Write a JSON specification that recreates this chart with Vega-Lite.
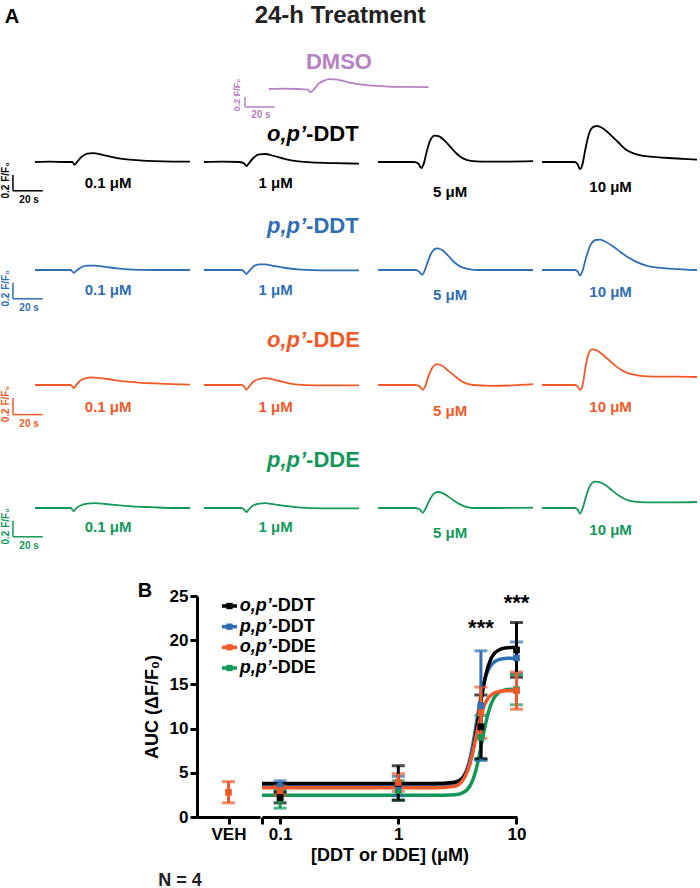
{
"$schema": "https://vega.github.io/schema/vega-lite/v6.json",
"padding": 0,
"autosize": {"type": "pad"},
"background": "white",
"spacing": 0,
"config": {
  "view": {"stroke": null},
  "font": "Liberation Sans",
  "axis": {"labelFont": "Liberation Sans", "titleFont": "Liberation Sans", "labelFontSize": 17, "labelFontWeight": "bold", "labelColor": "#000", "titleFontSize": 18, "titleFontWeight": "bold", "titleColor": "#000", "domainColor": "#000", "domainWidth": 3, "tickColor": "#000", "tickWidth": 3, "tickSize": 7, "grid": false, "labelPadding": 2}
},
"datasets": {
"tr": [
{"c":"DMSO","k":"","t":0,"v":0},{"c":"DMSO","k":"","t":10,"v":0.005},{"c":"DMSO","k":"","t":20,"v":0},{"c":"DMSO","k":"","t":26,"v":-0.01},{"c":"DMSO","k":"","t":28,"v":-0.05},{"c":"DMSO","k":"","t":30,"v":-0.01},{"c":"DMSO","k":"","t":33,"v":0.08},{"c":"DMSO","k":"","t":37,"v":0.14},{"c":"DMSO","k":"","t":41,"v":0.165},{"c":"DMSO","k":"","t":46,"v":0.155},{"c":"DMSO","k":"","t":52,"v":0.12},{"c":"DMSO","k":"","t":60,"v":0.08},{"c":"DMSO","k":"","t":70,"v":0.055},{"c":"DMSO","k":"","t":80,"v":0.04},{"c":"DMSO","k":"","t":92,"v":0.035},{"c":"DMSO","k":"","t":107,"v":0.03},

{"c":"o,p’-DDT","k":"0.1 μM","t":0,"v":0},{"c":"o,p’-DDT","k":"0.1 μM","t":10,"v":0.005},{"c":"o,p’-DDT","k":"0.1 μM","t":20,"v":0},{"c":"o,p’-DDT","k":"0.1 μM","t":25,"v":0},{"c":"o,p’-DDT","k":"0.1 μM","t":26.5,"v":-0.035},{"c":"o,p’-DDT","k":"0.1 μM","t":28,"v":-0.005},{"c":"o,p’-DDT","k":"0.1 μM","t":31,"v":0.06},{"c":"o,p’-DDT","k":"0.1 μM","t":35,"v":0.105},{"c":"o,p’-DDT","k":"0.1 μM","t":39,"v":0.11},{"c":"o,p’-DDT","k":"0.1 μM","t":45,"v":0.09},{"c":"o,p’-DDT","k":"0.1 μM","t":52,"v":0.06},{"c":"o,p’-DDT","k":"0.1 μM","t":60,"v":0.035},{"c":"o,p’-DDT","k":"0.1 μM","t":70,"v":0.02},{"c":"o,p’-DDT","k":"0.1 μM","t":80,"v":0.01},{"c":"o,p’-DDT","k":"0.1 μM","t":92,"v":0.005},{"c":"o,p’-DDT","k":"0.1 μM","t":104,"v":0.005},
{"c":"o,p’-DDT","k":"1 μM","t":0,"v":0},{"c":"o,p’-DDT","k":"1 μM","t":12,"v":0.005},{"c":"o,p’-DDT","k":"1 μM","t":24,"v":0},{"c":"o,p’-DDT","k":"1 μM","t":27,"v":-0.02},{"c":"o,p’-DDT","k":"1 μM","t":28.5,"v":-0.05},{"c":"o,p’-DDT","k":"1 μM","t":30,"v":-0.02},{"c":"o,p’-DDT","k":"1 μM","t":33,"v":0.05},{"c":"o,p’-DDT","k":"1 μM","t":37,"v":0.095},{"c":"o,p’-DDT","k":"1 μM","t":41,"v":0.1},{"c":"o,p’-DDT","k":"1 μM","t":47,"v":0.075},{"c":"o,p’-DDT","k":"1 μM","t":54,"v":0.04},{"c":"o,p’-DDT","k":"1 μM","t":62,"v":0.01},{"c":"o,p’-DDT","k":"1 μM","t":72,"v":-0.005},{"c":"o,p’-DDT","k":"1 μM","t":88,"v":-0.015},{"c":"o,p’-DDT","k":"1 μM","t":104,"v":-0.02},
{"c":"o,p’-DDT","k":"5 μM","t":0,"v":0},{"c":"o,p’-DDT","k":"5 μM","t":12,"v":0},{"c":"o,p’-DDT","k":"5 μM","t":24,"v":0},{"c":"o,p’-DDT","k":"5 μM","t":27,"v":-0.02},{"c":"o,p’-DDT","k":"5 μM","t":29,"v":-0.075},{"c":"o,p’-DDT","k":"5 μM","t":30.5,"v":-0.03},{"c":"o,p’-DDT","k":"5 μM","t":32.5,"v":0.12},{"c":"o,p’-DDT","k":"5 μM","t":35,"v":0.27},{"c":"o,p’-DDT","k":"5 μM","t":38,"v":0.33},{"c":"o,p’-DDT","k":"5 μM","t":41,"v":0.32},{"c":"o,p’-DDT","k":"5 μM","t":45,"v":0.26},{"c":"o,p’-DDT","k":"5 μM","t":49,"v":0.18},{"c":"o,p’-DDT","k":"5 μM","t":53,"v":0.1},{"c":"o,p’-DDT","k":"5 μM","t":57,"v":0.045},{"c":"o,p’-DDT","k":"5 μM","t":62,"v":0.015},{"c":"o,p’-DDT","k":"5 μM","t":70,"v":0.005},{"c":"o,p’-DDT","k":"5 μM","t":85,"v":0.005},{"c":"o,p’-DDT","k":"5 μM","t":104,"v":0.01},
{"c":"o,p’-DDT","k":"10 μM","t":0,"v":0},{"c":"o,p’-DDT","k":"10 μM","t":12,"v":0},{"c":"o,p’-DDT","k":"10 μM","t":22,"v":0},{"c":"o,p’-DDT","k":"10 μM","t":24,"v":-0.03},{"c":"o,p’-DDT","k":"10 μM","t":25.5,"v":-0.09},{"c":"o,p’-DDT","k":"10 μM","t":27,"v":-0.04},{"c":"o,p’-DDT","k":"10 μM","t":29,"v":0.15},{"c":"o,p’-DDT","k":"10 μM","t":31.5,"v":0.35},{"c":"o,p’-DDT","k":"10 μM","t":34.5,"v":0.44},{"c":"o,p’-DDT","k":"10 μM","t":37,"v":0.45},{"c":"o,p’-DDT","k":"10 μM","t":41,"v":0.42},{"c":"o,p’-DDT","k":"10 μM","t":46,"v":0.34},{"c":"o,p’-DDT","k":"10 μM","t":51,"v":0.25},{"c":"o,p’-DDT","k":"10 μM","t":56,"v":0.16},{"c":"o,p’-DDT","k":"10 μM","t":61,"v":0.11},{"c":"o,p’-DDT","k":"10 μM","t":67,"v":0.08},{"c":"o,p’-DDT","k":"10 μM","t":75,"v":0.065},{"c":"o,p’-DDT","k":"10 μM","t":85,"v":0.05},{"c":"o,p’-DDT","k":"10 μM","t":95,"v":0.04},{"c":"o,p’-DDT","k":"10 μM","t":104,"v":0.03},

{"c":"p,p’-DDT","k":"0.1 μM","t":0,"v":0},{"c":"p,p’-DDT","k":"0.1 μM","t":12,"v":0},{"c":"p,p’-DDT","k":"0.1 μM","t":24,"v":0},{"c":"p,p’-DDT","k":"0.1 μM","t":26,"v":-0.035},{"c":"p,p’-DDT","k":"0.1 μM","t":28,"v":-0.005},{"c":"p,p’-DDT","k":"0.1 μM","t":31,"v":0.035},{"c":"p,p’-DDT","k":"0.1 μM","t":35,"v":0.055},{"c":"p,p’-DDT","k":"0.1 μM","t":40,"v":0.055},{"c":"p,p’-DDT","k":"0.1 μM","t":47,"v":0.04},{"c":"p,p’-DDT","k":"0.1 μM","t":55,"v":0.02},{"c":"p,p’-DDT","k":"0.1 μM","t":65,"v":0.005},{"c":"p,p’-DDT","k":"0.1 μM","t":80,"v":0},{"c":"p,p’-DDT","k":"0.1 μM","t":104,"v":0},
{"c":"p,p’-DDT","k":"1 μM","t":0,"v":0},{"c":"p,p’-DDT","k":"1 μM","t":12,"v":0},{"c":"p,p’-DDT","k":"1 μM","t":25,"v":0},{"c":"p,p’-DDT","k":"1 μM","t":27,"v":-0.02},{"c":"p,p’-DDT","k":"1 μM","t":28.5,"v":-0.05},{"c":"p,p’-DDT","k":"1 μM","t":30,"v":-0.02},{"c":"p,p’-DDT","k":"1 μM","t":33,"v":0.04},{"c":"p,p’-DDT","k":"1 μM","t":37,"v":0.07},{"c":"p,p’-DDT","k":"1 μM","t":41,"v":0.07},{"c":"p,p’-DDT","k":"1 μM","t":47,"v":0.05},{"c":"p,p’-DDT","k":"1 μM","t":55,"v":0.025},{"c":"p,p’-DDT","k":"1 μM","t":65,"v":0.005},{"c":"p,p’-DDT","k":"1 μM","t":80,"v":-0.005},{"c":"p,p’-DDT","k":"1 μM","t":104,"v":-0.005},
{"c":"p,p’-DDT","k":"5 μM","t":0,"v":0},{"c":"p,p’-DDT","k":"5 μM","t":12,"v":0},{"c":"p,p’-DDT","k":"5 μM","t":25,"v":0},{"c":"p,p’-DDT","k":"5 μM","t":27.5,"v":-0.02},{"c":"p,p’-DDT","k":"5 μM","t":29.5,"v":-0.06},{"c":"p,p’-DDT","k":"5 μM","t":31,"v":-0.02},{"c":"p,p’-DDT","k":"5 μM","t":33.5,"v":0.11},{"c":"p,p’-DDT","k":"5 μM","t":36,"v":0.22},{"c":"p,p’-DDT","k":"5 μM","t":39.5,"v":0.27},{"c":"p,p’-DDT","k":"5 μM","t":43,"v":0.25},{"c":"p,p’-DDT","k":"5 μM","t":47,"v":0.18},{"c":"p,p’-DDT","k":"5 μM","t":51,"v":0.1},{"c":"p,p’-DDT","k":"5 μM","t":55,"v":0.045},{"c":"p,p’-DDT","k":"5 μM","t":60,"v":0.015},{"c":"p,p’-DDT","k":"5 μM","t":68,"v":0},{"c":"p,p’-DDT","k":"5 μM","t":85,"v":0},{"c":"p,p’-DDT","k":"5 μM","t":104,"v":0},
{"c":"p,p’-DDT","k":"10 μM","t":0,"v":0},{"c":"p,p’-DDT","k":"10 μM","t":12,"v":0},{"c":"p,p’-DDT","k":"10 μM","t":22,"v":0},{"c":"p,p’-DDT","k":"10 μM","t":24,"v":-0.02},{"c":"p,p’-DDT","k":"10 μM","t":25.5,"v":-0.07},{"c":"p,p’-DDT","k":"10 μM","t":27,"v":-0.02},{"c":"p,p’-DDT","k":"10 μM","t":29.5,"v":0.15},{"c":"p,p’-DDT","k":"10 μM","t":32.5,"v":0.31},{"c":"p,p’-DDT","k":"10 μM","t":36,"v":0.375},{"c":"p,p’-DDT","k":"10 μM","t":39,"v":0.38},{"c":"p,p’-DDT","k":"10 μM","t":43,"v":0.35},{"c":"p,p’-DDT","k":"10 μM","t":48,"v":0.29},{"c":"p,p’-DDT","k":"10 μM","t":53,"v":0.22},{"c":"p,p’-DDT","k":"10 μM","t":58,"v":0.155},{"c":"p,p’-DDT","k":"10 μM","t":63,"v":0.105},{"c":"p,p’-DDT","k":"10 μM","t":70,"v":0.055},{"c":"p,p’-DDT","k":"10 μM","t":78,"v":0.03},{"c":"p,p’-DDT","k":"10 μM","t":88,"v":0.015},{"c":"p,p’-DDT","k":"10 μM","t":104,"v":0},

{"c":"o,p’-DDE","k":"0.1 μM","t":0,"v":0},{"c":"o,p’-DDE","k":"0.1 μM","t":12,"v":0},{"c":"o,p’-DDE","k":"0.1 μM","t":24,"v":0},{"c":"o,p’-DDE","k":"0.1 μM","t":26,"v":-0.04},{"c":"o,p’-DDE","k":"0.1 μM","t":27.5,"v":-0.005},{"c":"o,p’-DDE","k":"0.1 μM","t":30,"v":0.05},{"c":"o,p’-DDE","k":"0.1 μM","t":34,"v":0.085},{"c":"o,p’-DDE","k":"0.1 μM","t":38,"v":0.095},{"c":"o,p’-DDE","k":"0.1 μM","t":44,"v":0.085},{"c":"o,p’-DDE","k":"0.1 μM","t":52,"v":0.065},{"c":"o,p’-DDE","k":"0.1 μM","t":60,"v":0.045},{"c":"o,p’-DDE","k":"0.1 μM","t":70,"v":0.03},{"c":"o,p’-DDE","k":"0.1 μM","t":80,"v":0.02},{"c":"o,p’-DDE","k":"0.1 μM","t":92,"v":0.01},{"c":"o,p’-DDE","k":"0.1 μM","t":104,"v":0.005},
{"c":"o,p’-DDE","k":"1 μM","t":0,"v":0},{"c":"o,p’-DDE","k":"1 μM","t":12,"v":0},{"c":"o,p’-DDE","k":"1 μM","t":25,"v":0},{"c":"o,p’-DDE","k":"1 μM","t":27,"v":-0.02},{"c":"o,p’-DDE","k":"1 μM","t":28.5,"v":-0.06},{"c":"o,p’-DDE","k":"1 μM","t":30,"v":-0.025},{"c":"o,p’-DDE","k":"1 μM","t":33,"v":0.04},{"c":"o,p’-DDE","k":"1 μM","t":37,"v":0.075},{"c":"o,p’-DDE","k":"1 μM","t":41,"v":0.085},{"c":"o,p’-DDE","k":"1 μM","t":47,"v":0.065},{"c":"o,p’-DDE","k":"1 μM","t":55,"v":0.03},{"c":"o,p’-DDE","k":"1 μM","t":63,"v":0.005},{"c":"o,p’-DDE","k":"1 μM","t":75,"v":-0.005},{"c":"o,p’-DDE","k":"1 μM","t":90,"v":-0.005},{"c":"o,p’-DDE","k":"1 μM","t":104,"v":-0.005},
{"c":"o,p’-DDE","k":"5 μM","t":0,"v":0},{"c":"o,p’-DDE","k":"5 μM","t":12,"v":0},{"c":"o,p’-DDE","k":"5 μM","t":25,"v":0},{"c":"o,p’-DDE","k":"5 μM","t":28,"v":-0.02},{"c":"o,p’-DDE","k":"5 μM","t":30,"v":-0.06},{"c":"o,p’-DDE","k":"5 μM","t":31.5,"v":-0.02},{"c":"o,p’-DDE","k":"5 μM","t":34,"v":0.12},{"c":"o,p’-DDE","k":"5 μM","t":36.5,"v":0.22},{"c":"o,p’-DDE","k":"5 μM","t":39.5,"v":0.26},{"c":"o,p’-DDE","k":"5 μM","t":43,"v":0.24},{"c":"o,p’-DDE","k":"5 μM","t":47,"v":0.18},{"c":"o,p’-DDE","k":"5 μM","t":51,"v":0.12},{"c":"o,p’-DDE","k":"5 μM","t":55,"v":0.06},{"c":"o,p’-DDE","k":"5 μM","t":59,"v":0.02},{"c":"o,p’-DDE","k":"5 μM","t":64,"v":0},{"c":"o,p’-DDE","k":"5 μM","t":75,"v":-0.01},{"c":"o,p’-DDE","k":"5 μM","t":90,"v":-0.005},{"c":"o,p’-DDE","k":"5 μM","t":104,"v":0.01},
{"c":"o,p’-DDE","k":"10 μM","t":0,"v":0},{"c":"o,p’-DDE","k":"10 μM","t":12,"v":0},{"c":"o,p’-DDE","k":"10 μM","t":22,"v":0},{"c":"o,p’-DDE","k":"10 μM","t":24,"v":-0.02},{"c":"o,p’-DDE","k":"10 μM","t":25.5,"v":-0.06},{"c":"o,p’-DDE","k":"10 μM","t":27,"v":-0.02},{"c":"o,p’-DDE","k":"10 μM","t":29,"v":0.2},{"c":"o,p’-DDE","k":"10 μM","t":31,"v":0.38},{"c":"o,p’-DDE","k":"10 μM","t":33.5,"v":0.445},{"c":"o,p’-DDE","k":"10 μM","t":36,"v":0.44},{"c":"o,p’-DDE","k":"10 μM","t":40,"v":0.39},{"c":"o,p’-DDE","k":"10 μM","t":45,"v":0.31},{"c":"o,p’-DDE","k":"10 μM","t":50,"v":0.23},{"c":"o,p’-DDE","k":"10 μM","t":55,"v":0.17},{"c":"o,p’-DDE","k":"10 μM","t":60,"v":0.135},{"c":"o,p’-DDE","k":"10 μM","t":66,"v":0.115},{"c":"o,p’-DDE","k":"10 μM","t":75,"v":0.105},{"c":"o,p’-DDE","k":"10 μM","t":90,"v":0.105},{"c":"o,p’-DDE","k":"10 μM","t":104,"v":0.1},

{"c":"p,p’-DDE","k":"0.1 μM","t":0,"v":0},{"c":"p,p’-DDE","k":"0.1 μM","t":12,"v":0},{"c":"p,p’-DDE","k":"0.1 μM","t":24,"v":0},{"c":"p,p’-DDE","k":"0.1 μM","t":26,"v":-0.04},{"c":"p,p’-DDE","k":"0.1 μM","t":27.5,"v":-0.005},{"c":"p,p’-DDE","k":"0.1 μM","t":31,"v":0.035},{"c":"p,p’-DDE","k":"0.1 μM","t":35,"v":0.055},{"c":"p,p’-DDE","k":"0.1 μM","t":40,"v":0.06},{"c":"p,p’-DDE","k":"0.1 μM","t":47,"v":0.05},{"c":"p,p’-DDE","k":"0.1 μM","t":55,"v":0.035},{"c":"p,p’-DDE","k":"0.1 μM","t":65,"v":0.02},{"c":"p,p’-DDE","k":"0.1 μM","t":78,"v":0.01},{"c":"p,p’-DDE","k":"0.1 μM","t":92,"v":0},{"c":"p,p’-DDE","k":"0.1 μM","t":104,"v":0},
{"c":"p,p’-DDE","k":"1 μM","t":0,"v":0},{"c":"p,p’-DDE","k":"1 μM","t":12,"v":0},{"c":"p,p’-DDE","k":"1 μM","t":25,"v":0},{"c":"p,p’-DDE","k":"1 μM","t":27,"v":-0.02},{"c":"p,p’-DDE","k":"1 μM","t":28.5,"v":-0.05},{"c":"p,p’-DDE","k":"1 μM","t":30,"v":-0.02},{"c":"p,p’-DDE","k":"1 μM","t":33,"v":0.03},{"c":"p,p’-DDE","k":"1 μM","t":37,"v":0.055},{"c":"p,p’-DDE","k":"1 μM","t":41,"v":0.06},{"c":"p,p’-DDE","k":"1 μM","t":47,"v":0.045},{"c":"p,p’-DDE","k":"1 μM","t":55,"v":0.025},{"c":"p,p’-DDE","k":"1 μM","t":65,"v":0.005},{"c":"p,p’-DDE","k":"1 μM","t":80,"v":-0.005},{"c":"p,p’-DDE","k":"1 μM","t":104,"v":-0.005},
{"c":"p,p’-DDE","k":"5 μM","t":0,"v":0},{"c":"p,p’-DDE","k":"5 μM","t":12,"v":0},{"c":"p,p’-DDE","k":"5 μM","t":25,"v":0},{"c":"p,p’-DDE","k":"5 μM","t":28,"v":-0.02},{"c":"p,p’-DDE","k":"5 μM","t":30,"v":-0.06},{"c":"p,p’-DDE","k":"5 μM","t":31.5,"v":-0.02},{"c":"p,p’-DDE","k":"5 μM","t":34,"v":0.08},{"c":"p,p’-DDE","k":"5 μM","t":37,"v":0.17},{"c":"p,p’-DDE","k":"5 μM","t":40,"v":0.2},{"c":"p,p’-DDE","k":"5 μM","t":43,"v":0.19},{"c":"p,p’-DDE","k":"5 μM","t":47,"v":0.145},{"c":"p,p’-DDE","k":"5 μM","t":51,"v":0.09},{"c":"p,p’-DDE","k":"5 μM","t":55,"v":0.045},{"c":"p,p’-DDE","k":"5 μM","t":59,"v":0.015},{"c":"p,p’-DDE","k":"5 μM","t":65,"v":0},{"c":"p,p’-DDE","k":"5 μM","t":80,"v":0},{"c":"p,p’-DDE","k":"5 μM","t":104,"v":0.005},
{"c":"p,p’-DDE","k":"10 μM","t":0,"v":0},{"c":"p,p’-DDE","k":"10 μM","t":12,"v":0},{"c":"p,p’-DDE","k":"10 μM","t":22,"v":0},{"c":"p,p’-DDE","k":"10 μM","t":24,"v":-0.02},{"c":"p,p’-DDE","k":"10 μM","t":25.5,"v":-0.07},{"c":"p,p’-DDE","k":"10 μM","t":27,"v":-0.02},{"c":"p,p’-DDE","k":"10 μM","t":29.5,"v":0.14},{"c":"p,p’-DDE","k":"10 μM","t":32,"v":0.27},{"c":"p,p’-DDE","k":"10 μM","t":35.5,"v":0.33},{"c":"p,p’-DDE","k":"10 μM","t":39,"v":0.32},{"c":"p,p’-DDE","k":"10 μM","t":43,"v":0.28},{"c":"p,p’-DDE","k":"10 μM","t":47,"v":0.22},{"c":"p,p’-DDE","k":"10 μM","t":52,"v":0.15},{"c":"p,p’-DDE","k":"10 μM","t":57,"v":0.1},{"c":"p,p’-DDE","k":"10 μM","t":62,"v":0.08},{"c":"p,p’-DDE","k":"10 μM","t":70,"v":0.07},{"c":"p,p’-DDE","k":"10 μM","t":85,"v":0.07},{"c":"p,p’-DDE","k":"10 μM","t":104,"v":0.075}
],
"pts": [
{"c":"p,p’-DDE","dose":0.1,"m":2.0,"lo":1.0,"hi":3.0},{"c":"p,p’-DDE","dose":1,"m":3.0,"lo":1.9,"hi":4.1},{"c":"p,p’-DDE","dose":5,"m":9.0,"lo":6.5,"hi":11.5},{"c":"p,p’-DDE","dose":10,"m":14.4,"lo":12.7,"hi":16.1},
{"c":"p,p’-DDT","dose":0.1,"m":3.5,"lo":2.9,"hi":4.1},{"c":"p,p’-DDT","dose":1,"m":3.5,"lo":2.4,"hi":4.6},{"c":"p,p’-DDT","dose":5,"m":12.6,"lo":6.4,"hi":18.8},{"c":"p,p’-DDT","dose":10,"m":18.0,"lo":16.2,"hi":19.8},
{"c":"o,p’-DDT","dose":0.1,"m":2.2,"lo":1.6,"hi":2.8},{"c":"o,p’-DDT","dose":1,"m":3.8,"lo":1.9,"hi":5.8},{"c":"o,p’-DDT","dose":5,"m":10.2,"lo":6.6,"hi":13.8},{"c":"o,p’-DDT","dose":10,"m":18.9,"lo":15.8,"hi":22.0},
{"c":"o,p’-DDE","dose":0.1,"m":3.0,"lo":2.5,"hi":3.5},{"c":"o,p’-DDE","dose":1,"m":3.9,"lo":2.9,"hi":4.9},{"c":"o,p’-DDE","dose":5,"m":11.8,"lo":8.9,"hi":14.7},{"c":"o,p’-DDE","dose":10,"m":14.3,"lo":12.2,"hi":16.4}
],
"fit": [
{"c":"p,p’-DDE","dose":0.0703,"auc":2.45},{"c":"p,p’-DDE","dose":0.1,"auc":2.45},{"c":"p,p’-DDE","dose":0.3,"auc":2.45},{"c":"p,p’-DDE","dose":1,"auc":2.45},{"c":"p,p’-DDE","dose":2,"auc":2.45},{"c":"p,p’-DDE","dose":3,"auc":2.51},{"c":"p,p’-DDE","dose":3.5,"auc":2.72},{"c":"p,p’-DDE","dose":4,"auc":3.42},{"c":"p,p’-DDE","dose":4.3,"auc":4.3},{"c":"p,p’-DDE","dose":4.6,"auc":5.61},{"c":"p,p’-DDE","dose":4.8,"auc":6.7},{"c":"p,p’-DDE","dose":5,"auc":7.88},{"c":"p,p’-DDE","dose":5.3,"auc":9.62},{"c":"p,p’-DDE","dose":5.6,"auc":11.11},{"c":"p,p’-DDE","dose":6,"auc":12.51},{"c":"p,p’-DDE","dose":6.5,"auc":13.53},{"c":"p,p’-DDE","dose":7,"auc":14.02},{"c":"p,p’-DDE","dose":8,"auc":14.37},{"c":"p,p’-DDE","dose":10,"auc":14.49},
{"c":"p,p’-DDT","dose":0.0703,"auc":3.5},{"c":"p,p’-DDT","dose":0.1,"auc":3.5},{"c":"p,p’-DDT","dose":0.3,"auc":3.5},{"c":"p,p’-DDT","dose":1,"auc":3.5},{"c":"p,p’-DDT","dose":2,"auc":3.5},{"c":"p,p’-DDT","dose":3,"auc":3.7},{"c":"p,p’-DDT","dose":3.5,"auc":4.39},{"c":"p,p’-DDT","dose":4,"auc":6.37},{"c":"p,p’-DDT","dose":4.3,"auc":8.39},{"c":"p,p’-DDT","dose":4.6,"auc":10.75},{"c":"p,p’-DDT","dose":4.8,"auc":12.27},{"c":"p,p’-DDT","dose":5,"auc":13.61},{"c":"p,p’-DDT","dose":5.3,"auc":15.17},{"c":"p,p’-DDT","dose":5.6,"auc":16.21},{"c":"p,p’-DDT","dose":6,"auc":17.05},{"c":"p,p’-DDT","dose":6.5,"auc":17.56},{"c":"p,p’-DDT","dose":7,"auc":17.78},{"c":"p,p’-DDT","dose":8,"auc":17.94},{"c":"p,p’-DDT","dose":10,"auc":18.0},
{"c":"o,p’-DDT","dose":0.0703,"auc":3.8},{"c":"o,p’-DDT","dose":0.1,"auc":3.8},{"c":"o,p’-DDT","dose":0.3,"auc":3.8},{"c":"o,p’-DDT","dose":1,"auc":3.8},{"c":"o,p’-DDT","dose":2,"auc":3.8},{"c":"o,p’-DDT","dose":3,"auc":3.94},{"c":"o,p’-DDT","dose":3.5,"auc":4.43},{"c":"o,p’-DDT","dose":4,"auc":5.95},{"c":"o,p’-DDT","dose":4.3,"auc":7.66},{"c":"o,p’-DDT","dose":4.6,"auc":9.89},{"c":"o,p’-DDT","dose":4.8,"auc":11.5},{"c":"o,p’-DDT","dose":5,"auc":13.04},{"c":"o,p’-DDT","dose":5.3,"auc":15.03},{"c":"o,p’-DDT","dose":5.6,"auc":16.49},{"c":"o,p’-DDT","dose":6,"auc":17.71},{"c":"o,p’-DDT","dose":6.5,"auc":18.5},{"c":"o,p’-DDT","dose":7,"auc":18.85},{"c":"o,p’-DDT","dose":8,"auc":19.11},{"c":"o,p’-DDT","dose":10,"auc":19.2},
{"c":"o,p’-DDE","dose":0.0703,"auc":3.3},{"c":"o,p’-DDE","dose":0.1,"auc":3.3},{"c":"o,p’-DDE","dose":0.3,"auc":3.3},{"c":"o,p’-DDE","dose":1,"auc":3.3},{"c":"o,p’-DDE","dose":2,"auc":3.3},{"c":"o,p’-DDE","dose":3,"auc":3.48},{"c":"o,p’-DDE","dose":3.5,"auc":4.12},{"c":"o,p’-DDE","dose":4,"auc":5.89},{"c":"o,p’-DDE","dose":4.3,"auc":7.57},{"c":"o,p’-DDE","dose":4.6,"auc":9.4},{"c":"o,p’-DDE","dose":4.8,"auc":10.52},{"c":"o,p’-DDE","dose":5,"auc":11.45},{"c":"o,p’-DDE","dose":5.3,"auc":12.51},{"c":"o,p’-DDE","dose":5.6,"auc":13.19},{"c":"o,p’-DDE","dose":6,"auc":13.71},{"c":"o,p’-DDE","dose":6.5,"auc":14.03},{"c":"o,p’-DDE","dose":7,"auc":14.17},{"c":"o,p’-DDE","dose":8,"auc":14.27},{"c":"o,p’-DDE","dose":10,"auc":14.3}
],
"veh": [{"c":"o,p’-DDE","g":"VEH","m":2.8,"lo":1.6,"hi":4.0}],
"lg": [
{"c":"o,p’-DDT","pre":"o,p’","post":"-DDT"},{"c":"p,p’-DDT","pre":"p,p’","post":"-DDT"},{"c":"o,p’-DDE","pre":"o,p’","post":"-DDE"},{"c":"p,p’-DDE","pre":"p,p’","post":"-DDE"}
]
},
"vconcat": [
{
 "width": 700, "height": 120,
 "layer": [
  {"data": {"name": "tr"}, "transform": [{"filter": "datum.c=='DMSO'"}], "mark": {"type": "line", "interpolate": "monotone", "strokeWidth": 1.8, "color": "#b681c2"}, "encoding": {"x": {"field": "t", "type": "quantitative", "scale": {"domain": [-180.5, 289.3], "nice": false, "zero": false}, "axis": null}, "y": {"field": "v", "type": "quantitative", "scale": {"domain": [-0.5167, 1.4833], "nice": false, "zero": false}, "axis": null}}},
  {"data": {"values": [{"s": "A"}]}, "mark": {"type": "text", "fontSize": 20, "fontWeight": "bold", "color": "#000"}, "encoding": {"x": {"datum": -172.5, "type": "quantitative", "axis": null}, "y": {"datum": 1.2, "type": "quantitative", "axis": null}, "text": {"field": "s"}}},
  {"data": {"values": [{"s": "24-h Treatment"}]}, "mark": {"type": "text", "fontSize": 24, "fontWeight": "bold", "color": "#222"}, "encoding": {"x": {"datum": 47.7, "type": "quantitative", "axis": null}, "y": {"datum": 1.217, "type": "quantitative", "axis": null}, "text": {"field": "s"}}},
  {"data": {"values": [{"s": "DMSO"}]}, "mark": {"type": "text", "fontSize": 22, "fontWeight": "bold", "color": "#b681c2"}, "encoding": {"x": {"datum": 47, "type": "quantitative", "axis": null}, "y": {"datum": 0.45, "type": "quantitative", "axis": null}, "text": {"field": "s"}}},
  {"data": {"values": [{}]}, "mark": {"type": "rule", "strokeWidth": 1.5, "color": "#b681c2"}, "encoding": {"x": {"datum": -16.1, "type": "quantitative", "axis": null}, "y": {"datum": -0.133, "type": "quantitative", "axis": null}, "y2": {"datum": -0.3}}},
  {"data": {"values": [{}]}, "mark": {"type": "rule", "strokeWidth": 1.5, "color": "#b681c2"}, "encoding": {"x": {"datum": -16.1, "type": "quantitative", "axis": null}, "x2": {"datum": 3.9}, "y": {"datum": -0.3, "type": "quantitative", "axis": null}}},
  {"data": {"values": [{"s": "20 s"}]}, "mark": {"type": "text", "fontSize": 10, "fontWeight": "bold", "color": "#b681c2"}, "encoding": {"x": {"datum": -5.4, "type": "quantitative", "axis": null}, "y": {"datum": -0.433, "type": "quantitative", "axis": null}, "text": {"field": "s"}}},
  {"data": {"values": [{"s": "0.2 F/F₀"}]}, "mark": {"type": "text", "fontSize": 9, "fontWeight": "bold", "angle": 270, "color": "#b681c2"}, "encoding": {"x": {"datum": -21.5, "type": "quantitative", "axis": null}, "y": {"datum": -0.1, "type": "quantitative", "axis": null}, "text": {"field": "s"}}}
 ]
},
{
 "bounds": "flush", "spacing": 14,
 "hconcat": [
  {"width": 190, "height": 90, "data": {"name": "tr"}, "transform": [{"filter": "datum.c=='o,p’-DDT'&&datum.k=='0.1 μM'"}],
   "layer": [
    {"mark": {"type": "line", "interpolate": "monotone", "strokeWidth": 1.8, "color": "#000"}, "encoding": {"x": {"field": "t", "type": "quantitative", "scale": {"domain": [-23.5, 104], "nice": false, "zero": false}, "axis": null}, "y": {"field": "v", "type": "quantitative", "scale": {"domain": [-0.6, 0.525], "nice": false, "zero": false}, "axis": null}}},
    {"transform": [{"filter": "datum.t==0"}], "mark": {"type": "text", "fontSize": 15, "fontWeight": "bold", "color": "#000"}, "encoding": {"x": {"datum": 49, "type": "quantitative", "axis": null}, "y": {"datum": -0.26, "type": "quantitative", "axis": null}, "text": {"field": "k"}}},
    {"transform": [{"filter": "datum.t==0"}], "mark": {"type": "rule", "strokeWidth": 1.5, "color": "#000"}, "encoding": {"x": {"datum": -14.8, "type": "quantitative", "axis": null}, "y": {"datum": -0.16, "type": "quantitative", "axis": null}, "y2": {"datum": -0.36}}},
    {"transform": [{"filter": "datum.t==0"}], "mark": {"type": "rule", "strokeWidth": 1.5, "color": "#000"}, "encoding": {"x": {"datum": -14.8, "type": "quantitative", "axis": null}, "x2": {"datum": 5.2}, "y": {"datum": -0.36, "type": "quantitative", "axis": null}}},
    {"transform": [{"filter": "datum.t==0"}], "mark": {"type": "text", "fontSize": 10, "fontWeight": "bold", "color": "#000"}, "encoding": {"x": {"datum": -4, "type": "quantitative", "axis": null}, "y": {"datum": -0.47, "type": "quantitative", "axis": null}, "text": {"value": "20 s"}}},
    {"transform": [{"filter": "datum.t==0"}], "mark": {"type": "text", "fontSize": 10, "fontWeight": "bold", "angle": 270, "color": "#000"}, "encoding": {"x": {"datum": -19.5, "type": "quantitative", "axis": null}, "y": {"datum": -0.23, "type": "quantitative", "axis": null}, "text": {"value": "0.2 F/F₀"}}}
   ]},
  {"width": 155, "height": 90, "data": {"name": "tr"}, "transform": [{"filter": "datum.c=='o,p’-DDT'&&datum.k=='1 μM'"}],
   "layer": [
    {"mark": {"type": "line", "interpolate": "monotone", "strokeWidth": 1.8, "color": "#000"}, "encoding": {"x": {"field": "t", "type": "quantitative", "scale": {"domain": [0, 104], "nice": false, "zero": false}, "axis": null}, "y": {"field": "v", "type": "quantitative", "scale": {"domain": [-0.6, 0.525], "nice": false, "zero": false}, "axis": null}}},
    {"transform": [{"filter": "datum.t==0"}], "mark": {"type": "text", "fontSize": 15, "fontWeight": "bold", "color": "#000"}, "encoding": {"x": {"datum": 48, "type": "quantitative", "axis": null}, "y": {"datum": -0.26, "type": "quantitative", "axis": null}, "text": {"field": "k"}}},
    {"transform": [{"filter": "datum.t==0"}], "mark": {"type": "text", "fontSize": 22, "fontWeight": "bold", "fontStyle": "italic", "align": "right", "color": "#000"}, "encoding": {"x": {"datum": 68.5, "type": "quantitative", "axis": null}, "y": {"datum": 0.35, "type": "quantitative", "axis": null}, "text": {"value": "o,p’"}}},
    {"transform": [{"filter": "datum.t==0"}], "mark": {"type": "text", "fontSize": 22, "fontWeight": "bold", "align": "left", "color": "#000"}, "encoding": {"x": {"datum": 68.5, "type": "quantitative", "axis": null}, "y": {"datum": 0.35, "type": "quantitative", "axis": null}, "text": {"value": "-DDT"}}}
   ]},
  {"width": 155, "height": 90, "data": {"name": "tr"}, "transform": [{"filter": "datum.c=='o,p’-DDT'&&datum.k=='5 μM'"}],
   "layer": [
    {"mark": {"type": "line", "interpolate": "monotone", "strokeWidth": 1.8, "color": "#000"}, "encoding": {"x": {"field": "t", "type": "quantitative", "scale": {"domain": [-3.4, 100.6], "nice": false, "zero": false}, "axis": null}, "y": {"field": "v", "type": "quantitative", "scale": {"domain": [-0.6, 0.525], "nice": false, "zero": false}, "axis": null}}},
    {"transform": [{"filter": "datum.t==0"}], "mark": {"type": "text", "fontSize": 15, "fontWeight": "bold", "color": "#000"}, "encoding": {"x": {"datum": 48.3, "type": "quantitative", "axis": null}, "y": {"datum": -0.37, "type": "quantitative", "axis": null}, "text": {"field": "k"}}}
   ]},
  {"width": 155, "height": 90, "data": {"name": "tr"}, "transform": [{"filter": "datum.c=='o,p’-DDT'&&datum.k=='10 μM'"}],
   "layer": [
    {"mark": {"type": "line", "interpolate": "monotone", "strokeWidth": 1.8, "color": "#000"}, "encoding": {"x": {"field": "t", "type": "quantitative", "scale": {"domain": [0, 104], "nice": false, "zero": false}, "axis": null}, "y": {"field": "v", "type": "quantitative", "scale": {"domain": [-0.6, 0.525], "nice": false, "zero": false}, "axis": null}}},
    {"transform": [{"filter": "datum.t==0"}], "mark": {"type": "text", "fontSize": 15, "fontWeight": "bold", "color": "#000"}, "encoding": {"x": {"datum": 46, "type": "quantitative", "axis": null}, "y": {"datum": -0.31, "type": "quantitative", "axis": null}, "text": {"field": "k"}}}
   ]}
 ]
},
{
 "bounds": "flush", "spacing": 14,
 "hconcat": [
  {"width": 190, "height": 112, "data": {"name": "tr"}, "transform": [{"filter": "datum.c=='p,p’-DDT'&&datum.k=='0.1 μM'"}],
   "layer": [
    {"mark": {"type": "line", "interpolate": "monotone", "strokeWidth": 1.8, "color": "#2f6eb5"}, "encoding": {"x": {"field": "t", "type": "quantitative", "scale": {"domain": [-23.5, 104], "nice": false, "zero": false}, "axis": null}, "y": {"field": "v", "type": "quantitative", "scale": {"domain": [-0.65, 0.75], "nice": false, "zero": false}, "axis": null}}},
    {"transform": [{"filter": "datum.t==0"}], "mark": {"type": "text", "fontSize": 15, "fontWeight": "bold", "color": "#2f6eb5"}, "encoding": {"x": {"datum": 49, "type": "quantitative", "axis": null}, "y": {"datum": -0.25, "type": "quantitative", "axis": null}, "text": {"field": "k"}}},
    {"transform": [{"filter": "datum.t==0"}], "mark": {"type": "rule", "strokeWidth": 1.5, "color": "#2f6eb5"}, "encoding": {"x": {"datum": -14.8, "type": "quantitative", "axis": null}, "y": {"datum": -0.16, "type": "quantitative", "axis": null}, "y2": {"datum": -0.36}}},
    {"transform": [{"filter": "datum.t==0"}], "mark": {"type": "rule", "strokeWidth": 1.5, "color": "#2f6eb5"}, "encoding": {"x": {"datum": -14.8, "type": "quantitative", "axis": null}, "x2": {"datum": 5.2}, "y": {"datum": -0.36, "type": "quantitative", "axis": null}}},
    {"transform": [{"filter": "datum.t==0"}], "mark": {"type": "text", "fontSize": 10, "fontWeight": "bold", "color": "#2f6eb5"}, "encoding": {"x": {"datum": -4, "type": "quantitative", "axis": null}, "y": {"datum": -0.475, "type": "quantitative", "axis": null}, "text": {"value": "20 s"}}},
    {"transform": [{"filter": "datum.t==0"}], "mark": {"type": "text", "fontSize": 10, "fontWeight": "bold", "angle": 270, "color": "#2f6eb5"}, "encoding": {"x": {"datum": -19.5, "type": "quantitative", "axis": null}, "y": {"datum": -0.23, "type": "quantitative", "axis": null}, "text": {"value": "0.2 F/F₀"}}}
   ]},
  {"width": 155, "height": 112, "data": {"name": "tr"}, "transform": [{"filter": "datum.c=='p,p’-DDT'&&datum.k=='1 μM'"}],
   "layer": [
    {"mark": {"type": "line", "interpolate": "monotone", "strokeWidth": 1.8, "color": "#2f6eb5"}, "encoding": {"x": {"field": "t", "type": "quantitative", "scale": {"domain": [0, 104], "nice": false, "zero": false}, "axis": null}, "y": {"field": "v", "type": "quantitative", "scale": {"domain": [-0.65, 0.75], "nice": false, "zero": false}, "axis": null}}},
    {"transform": [{"filter": "datum.t==0"}], "mark": {"type": "text", "fontSize": 15, "fontWeight": "bold", "color": "#2f6eb5"}, "encoding": {"x": {"datum": 48, "type": "quantitative", "axis": null}, "y": {"datum": -0.25, "type": "quantitative", "axis": null}, "text": {"field": "k"}}},
    {"transform": [{"filter": "datum.t==0"}], "mark": {"type": "text", "fontSize": 22, "fontWeight": "bold", "fontStyle": "italic", "align": "right", "color": "#2f6eb5"}, "encoding": {"x": {"datum": 68.5, "type": "quantitative", "axis": null}, "y": {"datum": 0.55, "type": "quantitative", "axis": null}, "text": {"value": "p,p’"}}},
    {"transform": [{"filter": "datum.t==0"}], "mark": {"type": "text", "fontSize": 22, "fontWeight": "bold", "align": "left", "color": "#2f6eb5"}, "encoding": {"x": {"datum": 68.5, "type": "quantitative", "axis": null}, "y": {"datum": 0.55, "type": "quantitative", "axis": null}, "text": {"value": "-DDT"}}}
   ]},
  {"width": 155, "height": 112, "data": {"name": "tr"}, "transform": [{"filter": "datum.c=='p,p’-DDT'&&datum.k=='5 μM'"}],
   "layer": [
    {"mark": {"type": "line", "interpolate": "monotone", "strokeWidth": 1.8, "color": "#2f6eb5"}, "encoding": {"x": {"field": "t", "type": "quantitative", "scale": {"domain": [-3.4, 100.6], "nice": false, "zero": false}, "axis": null}, "y": {"field": "v", "type": "quantitative", "scale": {"domain": [-0.65, 0.75], "nice": false, "zero": false}, "axis": null}}},
    {"transform": [{"filter": "datum.t==0"}], "mark": {"type": "text", "fontSize": 15, "fontWeight": "bold", "color": "#2f6eb5"}, "encoding": {"x": {"datum": 48.3, "type": "quantitative", "axis": null}, "y": {"datum": -0.31, "type": "quantitative", "axis": null}, "text": {"field": "k"}}}
   ]},
  {"width": 155, "height": 112, "data": {"name": "tr"}, "transform": [{"filter": "datum.c=='p,p’-DDT'&&datum.k=='10 μM'"}],
   "layer": [
    {"mark": {"type": "line", "interpolate": "monotone", "strokeWidth": 1.8, "color": "#2f6eb5"}, "encoding": {"x": {"field": "t", "type": "quantitative", "scale": {"domain": [0, 104], "nice": false, "zero": false}, "axis": null}, "y": {"field": "v", "type": "quantitative", "scale": {"domain": [-0.65, 0.75], "nice": false, "zero": false}, "axis": null}}},
    {"transform": [{"filter": "datum.t==0"}], "mark": {"type": "text", "fontSize": 15, "fontWeight": "bold", "color": "#2f6eb5"}, "encoding": {"x": {"datum": 46, "type": "quantitative", "axis": null}, "y": {"datum": -0.275, "type": "quantitative", "axis": null}, "text": {"field": "k"}}}
   ]}
 ]
},
{
 "bounds": "flush", "spacing": 14,
 "hconcat": [
  {"width": 190, "height": 118, "data": {"name": "tr"}, "transform": [{"filter": "datum.c=='o,p’-DDE'&&datum.k=='0.1 μM'"}],
   "layer": [
    {"mark": {"type": "line", "interpolate": "monotone", "strokeWidth": 1.8, "color": "#f05a28"}, "encoding": {"x": {"field": "t", "type": "quantitative", "scale": {"domain": [-23.5, 104], "nice": false, "zero": false}, "axis": null}, "y": {"field": "v", "type": "quantitative", "scale": {"domain": [-0.6875, 0.7875], "nice": false, "zero": false}, "axis": null}}},
    {"transform": [{"filter": "datum.t==0"}], "mark": {"type": "text", "fontSize": 15, "fontWeight": "bold", "color": "#f05a28"}, "encoding": {"x": {"datum": 49, "type": "quantitative", "axis": null}, "y": {"datum": -0.27, "type": "quantitative", "axis": null}, "text": {"field": "k"}}},
    {"transform": [{"filter": "datum.t==0"}], "mark": {"type": "rule", "strokeWidth": 1.5, "color": "#f05a28"}, "encoding": {"x": {"datum": -14.8, "type": "quantitative", "axis": null}, "y": {"datum": -0.16, "type": "quantitative", "axis": null}, "y2": {"datum": -0.37}}},
    {"transform": [{"filter": "datum.t==0"}], "mark": {"type": "rule", "strokeWidth": 1.5, "color": "#f05a28"}, "encoding": {"x": {"datum": -14.8, "type": "quantitative", "axis": null}, "x2": {"datum": 5.2}, "y": {"datum": -0.37, "type": "quantitative", "axis": null}}},
    {"transform": [{"filter": "datum.t==0"}], "mark": {"type": "text", "fontSize": 10, "fontWeight": "bold", "color": "#f05a28"}, "encoding": {"x": {"datum": -4, "type": "quantitative", "axis": null}, "y": {"datum": -0.485, "type": "quantitative", "axis": null}, "text": {"value": "20 s"}}},
    {"transform": [{"filter": "datum.t==0"}], "mark": {"type": "text", "fontSize": 10, "fontWeight": "bold", "angle": 270, "color": "#f05a28"}, "encoding": {"x": {"datum": -19.5, "type": "quantitative", "axis": null}, "y": {"datum": -0.24, "type": "quantitative", "axis": null}, "text": {"value": "0.2 F/F₀"}}}
   ]},
  {"width": 155, "height": 118, "data": {"name": "tr"}, "transform": [{"filter": "datum.c=='o,p’-DDE'&&datum.k=='1 μM'"}],
   "layer": [
    {"mark": {"type": "line", "interpolate": "monotone", "strokeWidth": 1.8, "color": "#f05a28"}, "encoding": {"x": {"field": "t", "type": "quantitative", "scale": {"domain": [0, 104], "nice": false, "zero": false}, "axis": null}, "y": {"field": "v", "type": "quantitative", "scale": {"domain": [-0.6875, 0.7875], "nice": false, "zero": false}, "axis": null}}},
    {"transform": [{"filter": "datum.t==0"}], "mark": {"type": "text", "fontSize": 15, "fontWeight": "bold", "color": "#f05a28"}, "encoding": {"x": {"datum": 48, "type": "quantitative", "axis": null}, "y": {"datum": -0.27, "type": "quantitative", "axis": null}, "text": {"field": "k"}}},
    {"transform": [{"filter": "datum.t==0"}], "mark": {"type": "text", "fontSize": 22, "fontWeight": "bold", "fontStyle": "italic", "align": "right", "color": "#f05a28"}, "encoding": {"x": {"datum": 68.5, "type": "quantitative", "axis": null}, "y": {"datum": 0.5625, "type": "quantitative", "axis": null}, "text": {"value": "o,p’"}}},
    {"transform": [{"filter": "datum.t==0"}], "mark": {"type": "text", "fontSize": 22, "fontWeight": "bold", "align": "left", "color": "#f05a28"}, "encoding": {"x": {"datum": 68.5, "type": "quantitative", "axis": null}, "y": {"datum": 0.5625, "type": "quantitative", "axis": null}, "text": {"value": "-DDE"}}}
   ]},
  {"width": 155, "height": 118, "data": {"name": "tr"}, "transform": [{"filter": "datum.c=='o,p’-DDE'&&datum.k=='5 μM'"}],
   "layer": [
    {"mark": {"type": "line", "interpolate": "monotone", "strokeWidth": 1.8, "color": "#f05a28"}, "encoding": {"x": {"field": "t", "type": "quantitative", "scale": {"domain": [-3.4, 100.6], "nice": false, "zero": false}, "axis": null}, "y": {"field": "v", "type": "quantitative", "scale": {"domain": [-0.6875, 0.7875], "nice": false, "zero": false}, "axis": null}}},
    {"transform": [{"filter": "datum.t==0"}], "mark": {"type": "text", "fontSize": 15, "fontWeight": "bold", "color": "#f05a28"}, "encoding": {"x": {"datum": 48.3, "type": "quantitative", "axis": null}, "y": {"datum": -0.33, "type": "quantitative", "axis": null}, "text": {"field": "k"}}}
   ]},
  {"width": 155, "height": 118, "data": {"name": "tr"}, "transform": [{"filter": "datum.c=='o,p’-DDE'&&datum.k=='10 μM'"}],
   "layer": [
    {"mark": {"type": "line", "interpolate": "monotone", "strokeWidth": 1.8, "color": "#f05a28"}, "encoding": {"x": {"field": "t", "type": "quantitative", "scale": {"domain": [0, 104], "nice": false, "zero": false}, "axis": null}, "y": {"field": "v", "type": "quantitative", "scale": {"domain": [-0.6875, 0.7875], "nice": false, "zero": false}, "axis": null}}},
    {"transform": [{"filter": "datum.t==0"}], "mark": {"type": "text", "fontSize": 15, "fontWeight": "bold", "color": "#f05a28"}, "encoding": {"x": {"datum": 46, "type": "quantitative", "axis": null}, "y": {"datum": -0.27, "type": "quantitative", "axis": null}, "text": {"field": "k"}}}
   ]}
 ]
},
{
 "bounds": "flush", "spacing": 14,
 "hconcat": [
  {"width": 190, "height": 140, "data": {"name": "tr"}, "transform": [{"filter": "datum.c=='p,p’-DDE'&&datum.k=='0.1 μM'"}],
   "layer": [
    {"mark": {"type": "line", "interpolate": "monotone", "strokeWidth": 1.8, "color": "#13985a"}, "encoding": {"x": {"field": "t", "type": "quantitative", "scale": {"domain": [-23.5, 104], "nice": false, "zero": false}, "axis": null}, "y": {"field": "v", "type": "quantitative", "scale": {"domain": [-0.9, 0.85], "nice": false, "zero": false}, "axis": null}}},
    {"transform": [{"filter": "datum.t==0"}], "mark": {"type": "text", "fontSize": 15, "fontWeight": "bold", "color": "#13985a"}, "encoding": {"x": {"datum": 49, "type": "quantitative", "axis": null}, "y": {"datum": -0.24, "type": "quantitative", "axis": null}, "text": {"field": "k"}}},
    {"transform": [{"filter": "datum.t==0"}], "mark": {"type": "rule", "strokeWidth": 1.5, "color": "#13985a"}, "encoding": {"x": {"datum": -14.8, "type": "quantitative", "axis": null}, "y": {"datum": -0.16, "type": "quantitative", "axis": null}, "y2": {"datum": -0.36}}},
    {"transform": [{"filter": "datum.t==0"}], "mark": {"type": "rule", "strokeWidth": 1.5, "color": "#13985a"}, "encoding": {"x": {"datum": -14.8, "type": "quantitative", "axis": null}, "x2": {"datum": 5.2}, "y": {"datum": -0.36, "type": "quantitative", "axis": null}}},
    {"transform": [{"filter": "datum.t==0"}], "mark": {"type": "text", "fontSize": 10, "fontWeight": "bold", "color": "#13985a"}, "encoding": {"x": {"datum": -4, "type": "quantitative", "axis": null}, "y": {"datum": -0.475, "type": "quantitative", "axis": null}, "text": {"value": "20 s"}}},
    {"transform": [{"filter": "datum.t==0"}], "mark": {"type": "text", "fontSize": 10, "fontWeight": "bold", "angle": 270, "color": "#13985a"}, "encoding": {"x": {"datum": -19.5, "type": "quantitative", "axis": null}, "y": {"datum": -0.23, "type": "quantitative", "axis": null}, "text": {"value": "0.2 F/F₀"}}}
   ]},
  {"width": 155, "height": 140, "data": {"name": "tr"}, "transform": [{"filter": "datum.c=='p,p’-DDE'&&datum.k=='1 μM'"}],
   "layer": [
    {"mark": {"type": "line", "interpolate": "monotone", "strokeWidth": 1.8, "color": "#13985a"}, "encoding": {"x": {"field": "t", "type": "quantitative", "scale": {"domain": [0, 104], "nice": false, "zero": false}, "axis": null}, "y": {"field": "v", "type": "quantitative", "scale": {"domain": [-0.9, 0.85], "nice": false, "zero": false}, "axis": null}}},
    {"transform": [{"filter": "datum.t==0"}], "mark": {"type": "text", "fontSize": 15, "fontWeight": "bold", "color": "#13985a"}, "encoding": {"x": {"datum": 48, "type": "quantitative", "axis": null}, "y": {"datum": -0.24, "type": "quantitative", "axis": null}, "text": {"field": "k"}}},
    {"transform": [{"filter": "datum.t==0"}], "mark": {"type": "text", "fontSize": 22, "fontWeight": "bold", "fontStyle": "italic", "align": "right", "color": "#13985a"}, "encoding": {"x": {"datum": 68.5, "type": "quantitative", "axis": null}, "y": {"datum": 0.6, "type": "quantitative", "axis": null}, "text": {"value": "p,p’"}}},
    {"transform": [{"filter": "datum.t==0"}], "mark": {"type": "text", "fontSize": 22, "fontWeight": "bold", "align": "left", "color": "#13985a"}, "encoding": {"x": {"datum": 68.5, "type": "quantitative", "axis": null}, "y": {"datum": 0.6, "type": "quantitative", "axis": null}, "text": {"value": "-DDE"}}}
   ]},
  {"width": 155, "height": 140, "data": {"name": "tr"}, "transform": [{"filter": "datum.c=='p,p’-DDE'&&datum.k=='5 μM'"}],
   "layer": [
    {"mark": {"type": "line", "interpolate": "monotone", "strokeWidth": 1.8, "color": "#13985a"}, "encoding": {"x": {"field": "t", "type": "quantitative", "scale": {"domain": [-3.4, 100.6], "nice": false, "zero": false}, "axis": null}, "y": {"field": "v", "type": "quantitative", "scale": {"domain": [-0.9, 0.85], "nice": false, "zero": false}, "axis": null}}},
    {"transform": [{"filter": "datum.t==0"}], "mark": {"type": "text", "fontSize": 15, "fontWeight": "bold", "color": "#13985a"}, "encoding": {"x": {"datum": 48.3, "type": "quantitative", "axis": null}, "y": {"datum": -0.31, "type": "quantitative", "axis": null}, "text": {"field": "k"}}}
   ]},
  {"width": 155, "height": 140, "data": {"name": "tr"}, "transform": [{"filter": "datum.c=='p,p’-DDE'&&datum.k=='10 μM'"}],
   "layer": [
    {"mark": {"type": "line", "interpolate": "monotone", "strokeWidth": 1.8, "color": "#13985a"}, "encoding": {"x": {"field": "t", "type": "quantitative", "scale": {"domain": [0, 104], "nice": false, "zero": false}, "axis": null}, "y": {"field": "v", "type": "quantitative", "scale": {"domain": [-0.9, 0.85], "nice": false, "zero": false}, "axis": null}}},
    {"transform": [{"filter": "datum.t==0"}], "mark": {"type": "text", "fontSize": 15, "fontWeight": "bold", "color": "#13985a"}, "encoding": {"x": {"datum": 46, "type": "quantitative", "axis": null}, "y": {"datum": -0.275, "type": "quantitative", "axis": null}, "text": {"field": "k"}}}
   ]}
 ]
},
{
 "bounds": "flush", "spacing": 2,
 "hconcat": [
  {"width": 195, "height": 221,
   "layer": [
    {"data": {"values": [{"s": "B"}]}, "mark": {"type": "text", "fontSize": 20, "fontWeight": "bold", "color": "#000"}, "encoding": {"x": {"datum": 145, "type": "quantitative", "scale": {"domain": [0, 195], "nice": false, "zero": false}, "axis": null}, "y": {"datum": 25.57, "type": "quantitative", "scale": {"domain": [0, 25], "nice": false}, "axis": null}, "text": {"field": "s"}}},
    {"data": {"values": [{"s": "N = 4"}]}, "mark": {"type": "text", "fontSize": 18, "fontWeight": "bold", "color": "#222"}, "encoding": {"x": {"datum": 180, "type": "quantitative", "axis": null}, "y": {"datum": -7.2, "type": "quantitative", "axis": null}, "text": {"field": "s"}}}
   ]},
  {"width": 63, "height": 221, "data": {"name": "veh"},
   "layer": [
    {"mark": {"type": "errorbar", "ticks": {"size": 13}, "thickness": 3}, "encoding": {"x": {"field": "g", "type": "nominal", "scale": {"type": "point"}, "axis": {"title": null, "labelAngle": 0}}, "y": {"field": "lo", "type": "quantitative", "scale": {"domain": [0, 25], "nice": false}, "axis": {"title": "AUC (ΔF/F₀)", "values": [0, 5, 10, 15, 20, 25], "titlePadding": 8}}, "y2": {"field": "hi"}, "color": {"field": "c", "type": "nominal", "scale": {"domain": ["o,p’-DDT", "p,p’-DDT", "o,p’-DDE", "p,p’-DDE"], "range": ["#000000", "#2f6eb5", "#f05a28", "#13985a"]}, "legend": null}}},
    {"mark": {"type": "point", "shape": "square", "filled": true, "size": 45, "opacity": 1}, "encoding": {"x": {"field": "g", "type": "nominal"}, "y": {"field": "m", "type": "quantitative", "axis": {"title": "AUC (ΔF/F₀)", "values": [0, 5, 10, 15, 20, 25], "titlePadding": 8}}, "color": {"field": "c", "type": "nominal", "legend": null}}}
   ]},
  {"width": 255, "height": 221,
   "resolve": {"scale": {"y": "independent"}},
   "layer": [
    {"layer": [
      {"data": {"name": "fit"}, "mark": {"type": "line", "interpolate": "monotone", "strokeWidth": 3.5}, "encoding": {"x": {"field": "dose", "type": "quantitative", "scale": {"type": "log", "domain": [0.0703, 10.1], "nice": false}, "axis": {"title": "[DDT or DDE] (μM)", "values": [0.0703, 0.1, 1, 10], "labelExpr": "datum.value < 0.09 ? '' : format(datum.value, '~g')", "labelFlush": false, "labelOverlap": false, "titlePadding": 4}}, "y": {"field": "auc", "type": "quantitative", "scale": {"domain": [0, 25], "nice": false}, "axis": null}, "color": {"field": "c", "type": "nominal", "scale": {"domain": ["o,p’-DDT", "p,p’-DDT", "o,p’-DDE", "p,p’-DDE"], "range": ["#000000", "#2f6eb5", "#f05a28", "#13985a"]}, "legend": null}}},
      {"data": {"name": "pts"}, "mark": {"type": "errorbar", "ticks": {"size": 13}, "thickness": 3}, "encoding": {"x": {"field": "dose", "type": "quantitative"}, "y": {"field": "lo", "type": "quantitative", "axis": null}, "y2": {"field": "hi"}, "color": {"field": "c", "type": "nominal", "legend": null}}},
      {"data": {"name": "pts"}, "mark": {"type": "point", "shape": "square", "filled": true, "size": 45, "opacity": 1}, "encoding": {"x": {"field": "dose", "type": "quantitative"}, "y": {"field": "m", "type": "quantitative", "axis": null}, "color": {"field": "c", "type": "nominal", "legend": null}}},
      {"data": {"values": [{"s": "***"}]}, "mark": {"type": "text", "fontSize": 22, "fontWeight": "bold", "baseline": "alphabetic", "color": "#000"}, "encoding": {"x": {"datum": 5, "type": "quantitative"}, "y": {"datum": 20.6, "type": "quantitative", "axis": null}, "text": {"field": "s"}}},
      {"data": {"values": [{"s": "***"}]}, "mark": {"type": "text", "fontSize": 22, "fontWeight": "bold", "baseline": "alphabetic", "color": "#000"}, "encoding": {"x": {"datum": 10, "type": "quantitative"}, "y": {"datum": 23.4, "type": "quantitative", "axis": null}, "text": {"field": "s"}}}
    ]},
    {"data": {"name": "lg"}, "layer": [
      {"mark": {"type": "rule", "strokeWidth": 3.5}, "encoding": {"x": {"datum": 0.0322, "type": "quantitative"}, "x2": {"datum": 0.0432}, "y": {"field": "c", "type": "nominal", "scale": {"type": "point", "domain": ["o,p’-DDT", "p,p’-DDT", "o,p’-DDE", "p,p’-DDE"], "range": [10, 72], "padding": 0}, "axis": null}, "color": {"field": "c", "type": "nominal", "legend": null}}},
      {"mark": {"type": "point", "shape": "square", "filled": true, "size": 40, "opacity": 1}, "encoding": {"x": {"datum": 0.0373, "type": "quantitative"}, "y": {"field": "c", "type": "nominal", "axis": null}, "color": {"field": "c", "type": "nominal", "legend": null}}},
      {"mark": {"type": "text", "fontSize": 18, "fontWeight": "bold", "fontStyle": "italic", "align": "right", "color": "#000"}, "encoding": {"x": {"datum": 0.0852, "type": "quantitative"}, "y": {"field": "c", "type": "nominal", "axis": null}, "text": {"field": "pre"}}},
      {"mark": {"type": "text", "fontSize": 18, "fontWeight": "bold", "align": "left", "color": "#000"}, "encoding": {"x": {"datum": 0.0852, "type": "quantitative"}, "y": {"field": "c", "type": "nominal", "axis": null}, "text": {"field": "post"}}}
    ]}
   ]}
 ]
}
]
}
